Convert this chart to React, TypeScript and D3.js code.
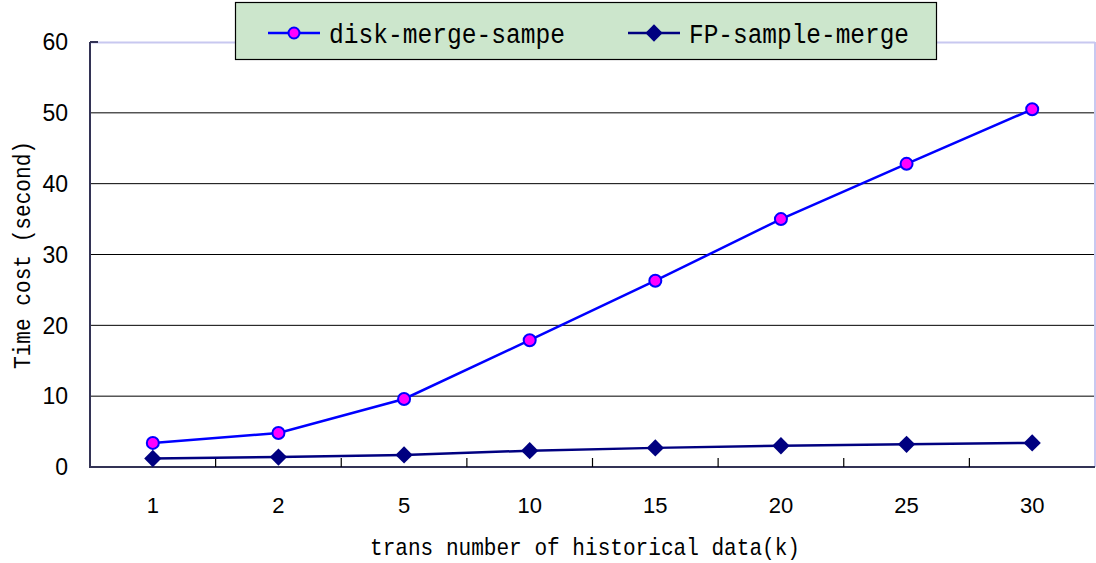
import React, { useEffect, useRef } from "react";
import * as d3 from "d3";

const categories = ["1", "2", "5", "10", "15", "20", "25", "30"];
const diskMergeSampe = [3.4, 4.8, 9.6, 17.9, 26.3, 35.0, 42.8, 50.5];
const fpSampleMerge = [1.2, 1.4, 1.7, 2.3, 2.7, 3.0, 3.2, 3.4];
const yTicks = [0, 10, 20, 30, 40, 50, 60];

const W = 1096;
const H = 563;
const mono = "'Liberation Mono', 'DejaVu Sans Mono', monospace";
const sans = "'Liberation Sans', Arial, sans-serif";

export default function App() {
  const ref = useRef<SVGSVGElement>(null);

  useEffect(() => {
    const svg = d3.select(ref.current);
    svg.selectAll("*").remove();

    const margin = { top: 42, right: 1, bottom: 96, left: 90 };
    const width = W - margin.left - margin.right;
    const height = H - margin.top - margin.bottom;

    const g = svg.append("g").attr("transform", `translate(${margin.left},${margin.top})`);

    const x = d3.scaleBand().domain(categories).range([0, width]);
    const y = d3.scaleLinear().domain([0, 60]).range([height, 0]);
    const cx = (c: string) => (x(c) as number) + x.bandwidth() / 2;

    // gridlines
    g.selectAll(".grid")
      .data(yTicks.filter((t) => t > 0 && t < 60))
      .join("line")
      .attr("x1", 0)
      .attr("x2", width)
      .attr("y1", (d) => y(d))
      .attr("y2", (d) => y(d))
      .attr("stroke", "#000")
      .attr("stroke-width", 1);

    // top and right borders
    g.append("line").attr("x1", 0).attr("x2", width).attr("y1", 0.5).attr("y2", 0.5)
      .attr("stroke", "#c8c8f0").attr("stroke-width", 2);
    g.append("line").attr("x1", width).attr("x2", width).attr("y1", 0).attr("y2", height)
      .attr("stroke", "#c8c8f0").attr("stroke-width", 2);

    // axes lines
    g.append("line").attr("x1", 0).attr("x2", 0).attr("y1", 0).attr("y2", height)
      .attr("stroke", "#333355").attr("stroke-width", 2);
    g.append("line").attr("x1", -1).attr("x2", width).attr("y1", height).attr("y2", height)
      .attr("stroke", "#333355").attr("stroke-width", 2);
    g.append("line").attr("x1", 0).attr("x2", 8).attr("y1", 0).attr("y2", 0)
      .attr("stroke", "#333355").attr("stroke-width", 2);

    // x ticks between categories
    g.selectAll(".xt")
      .data(categories.slice(1))
      .join("line")
      .attr("x1", (d) => x(d) as number)
      .attr("x2", (d) => x(d) as number)
      .attr("y1", height)
      .attr("y2", height - 9)
      .attr("stroke", "#000")
      .attr("stroke-width", 1.2);

    // y tick labels
    g.selectAll(".yl")
      .data(yTicks)
      .join("text")
      .attr("x", -20)
      .attr("y", (d) => y(d))
      .attr("dy", "0.36em")
      .attr("text-anchor", "end")
      .attr("font-family", sans)
      .attr("font-size", 23)
      .attr("transform", (d) => `translate(${-20 * 0.1},0)`)
      .attr("fill", "#000")
      .text((d) => d);

    // x tick labels
    g.selectAll(".xl")
      .data(categories)
      .join("text")
      .attr("x", (d) => cx(d))
      .attr("y", height + 46)
      .attr("text-anchor", "middle")
      .attr("font-family", sans)
      .attr("font-size", 22)
      .attr("fill", "#000")
      .text((d) => d);

    // axis titles
    svg.append("text")
      .attr("x", 585)
      .attr("y", 555)
      .attr("text-anchor", "middle")
      .attr("font-family", mono)
      .attr("font-size", 24)
      .attr("textLength", 430)
      .attr("lengthAdjust", "spacingAndGlyphs")
      .attr("fill", "#000")
      .text("trans number of historical data(k)");

    svg.append("text")
      .attr("transform", `translate(30,255) rotate(-90)`)
      .attr("text-anchor", "middle")
      .attr("font-family", mono)
      .attr("font-size", 24)
      .attr("textLength", 228)
      .attr("lengthAdjust", "spacingAndGlyphs")
      .attr("fill", "#000")
      .text("Time cost (second)");

    const line = d3.line<number>()
      .x((_, i) => cx(categories[i]))
      .y((d) => y(d));

    const diamond = d3.symbol().type(d3.symbolDiamond2).size(190);

    // FP-sample-merge
    g.append("path").datum(fpSampleMerge).attr("d", line)
      .attr("fill", "none").attr("stroke", "#000080").attr("stroke-width", 2.5);
    g.selectAll(".fp")
      .data(fpSampleMerge)
      .join("path")
      .attr("d", diamond)
      .attr("transform", (d, i) => `translate(${cx(categories[i])},${y(d)})`)
      .attr("fill", "#000080");

    // disk-merge-sampe
    g.append("path").datum(diskMergeSampe).attr("d", line)
      .attr("fill", "none").attr("stroke", "#0000ff").attr("stroke-width", 2.5);
    g.selectAll(".dk")
      .data(diskMergeSampe)
      .join("circle")
      .attr("cx", (d, i) => cx(categories[i]))
      .attr("cy", (d) => y(d))
      .attr("r", 6)
      .attr("fill", "#ff00ff")
      .attr("stroke", "#0000ff")
      .attr("stroke-width", 2);

    // legend
    const lg = svg.append("g");
    lg.append("rect").attr("x", 235.5).attr("y", 2.5).attr("width", 701).attr("height", 57)
      .attr("fill", "#cce6cc").attr("stroke", "#000").attr("stroke-width", 1.2);

    lg.append("line").attr("x1", 268).attr("x2", 320).attr("y1", 33).attr("y2", 33)
      .attr("stroke", "#0000ff").attr("stroke-width", 2.5);
    lg.append("circle").attr("cx", 294).attr("cy", 33).attr("r", 5.5)
      .attr("fill", "#ff00ff").attr("stroke", "#0000ff").attr("stroke-width", 2);
    lg.append("text").attr("x", 329).attr("y", 34).attr("dy", "0.35em")
      .attr("font-family", mono).attr("font-size", 27)
      .attr("textLength", 236).attr("lengthAdjust", "spacingAndGlyphs")
      .attr("fill", "#000")
      .text("disk-merge-sampe");

    lg.append("line").attr("x1", 628).attr("x2", 680).attr("y1", 33).attr("y2", 33)
      .attr("stroke", "#000080").attr("stroke-width", 2.5);
    lg.append("path").attr("d", diamond).attr("transform", "translate(654,33)")
      .attr("fill", "#000080");
    lg.append("text").attr("x", 689).attr("y", 34).attr("dy", "0.35em")
      .attr("font-family", mono).attr("font-size", 27)
      .attr("textLength", 220).attr("lengthAdjust", "spacingAndGlyphs")
      .attr("fill", "#000")
      .text("FP-sample-merge");
  }, []);

  return (
    <svg ref={ref} width={W} height={H} style={{ position: "absolute", left: 0, top: 0, background: "#fff" }} />
  );
}
